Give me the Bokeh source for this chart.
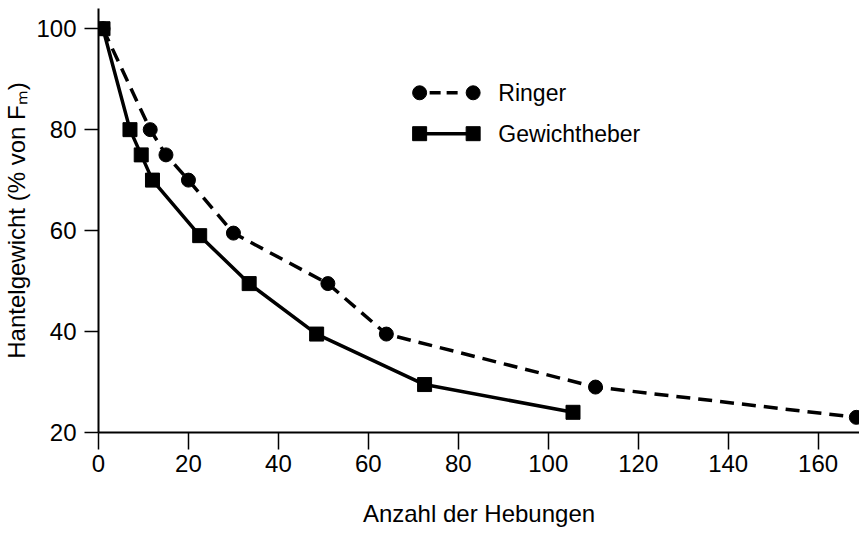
from bokeh.plotting import figure
from bokeh.models import Range1d, FixedTicker
from bokeh.embed import file_html
from bokeh.resources import INLINE
from bokeh.core.properties import value

# Data
gew_x = [1, 7, 9.5, 12, 22.5, 33.5, 48.5, 72.5, 105.5]
gew_y = [100, 80, 75, 70, 59, 49.5, 39.5, 29.5, 24]
ring_x = [1, 11.5, 15, 20, 30, 51, 64, 110.5, 168.5]
ring_y = [100, 80, 75, 70, 59.5, 49.5, 39.5, 29, 23]
x_ticks = [0, 20, 40, 60, 80, 100, 120, 140, 160]
y_ticks = [20, 40, 60, 80, 100]
series_names = ["Ringer", "Gewichtheber"]

FONT = "Liberation Sans"

p = figure(width=859, height=537, output_backend="svg", toolbar_location=None,
           x_range=Range1d(0, 169.2), y_range=Range1d(20, 104),
           min_border_left=96, min_border_right=0, min_border_top=8,
           min_border_bottom=105)
p.outline_line_color = None
p.xgrid.visible = False
p.ygrid.visible = False
p.background_fill_color = "white"

for ax in (p.xaxis[0], p.yaxis[0]):
    ax.axis_line_width = 2
    ax.axis_line_color = "black"
    ax.major_tick_line_width = 1.5
    ax.major_tick_line_color = "black"
    ax.minor_tick_line_color = None
    ax.major_tick_in = 0
    ax.major_label_text_font = FONT
    ax.major_label_text_font_size = "24px"
    ax.major_label_text_color = "black"
    ax.axis_label_text_font = FONT
    ax.axis_label_text_font_style = "normal"
    ax.axis_label_text_color = "black"

p.xaxis.ticker = FixedTicker(ticks=x_ticks)
p.yaxis.ticker = FixedTicker(ticks=y_ticks)
p.xaxis.major_tick_out = 17
p.yaxis.major_tick_out = 14
p.xaxis.major_label_standoff = 5
p.yaxis.major_label_standoff = 8
p.xaxis.axis_label = "Anzahl der Hebungen"
p.xaxis.axis_label_text_font_size = "24px"
p.xaxis.axis_label_standoff = 25
p.yaxis.axis_label = "Hantelgewicht (% von F\u2098)"
p.yaxis.axis_label_text_font_size = "24px"
p.yaxis.axis_label_standoff = 3

# Ringer: dashed line with circles
p.line(ring_x, ring_y, line_color="black", line_width=3.5, line_dash="14 8")
p.scatter(ring_x, ring_y, marker="circle", size=14, fill_color="black", line_color="black")

# Gewichtheber: solid line with squares
p.line(gew_x, gew_y, line_color="black", line_width=3.5)
p.scatter(gew_x, gew_y, marker="square", size=14, fill_color="black", line_color="black")

# Manual legend (positions in data space)
lx0, lx1, ltx = 71.4, 83.3, 88.9
ly = [87.3, 79.2]
p.line([lx0, lx1], [ly[0], ly[0]], line_color="black", line_width=3.5, line_dash="0 10 11 6 11 20")
p.scatter([lx0, lx1], [ly[0], ly[0]], marker="circle", size=14, fill_color="black", line_color="black")
p.line([lx0, lx1], [ly[1], ly[1]], line_color="black", line_width=3.5)
p.scatter([lx0, lx1], [ly[1], ly[1]], marker="square", size=14, fill_color="black", line_color="black")
p.text([ltx, ltx], ly, text=series_names, text_font=value(FONT), text_font_size="23px",
       text_baseline="middle", text_align="left", text_color="black")

open("out.html", "w").write(file_html(p, INLINE))
